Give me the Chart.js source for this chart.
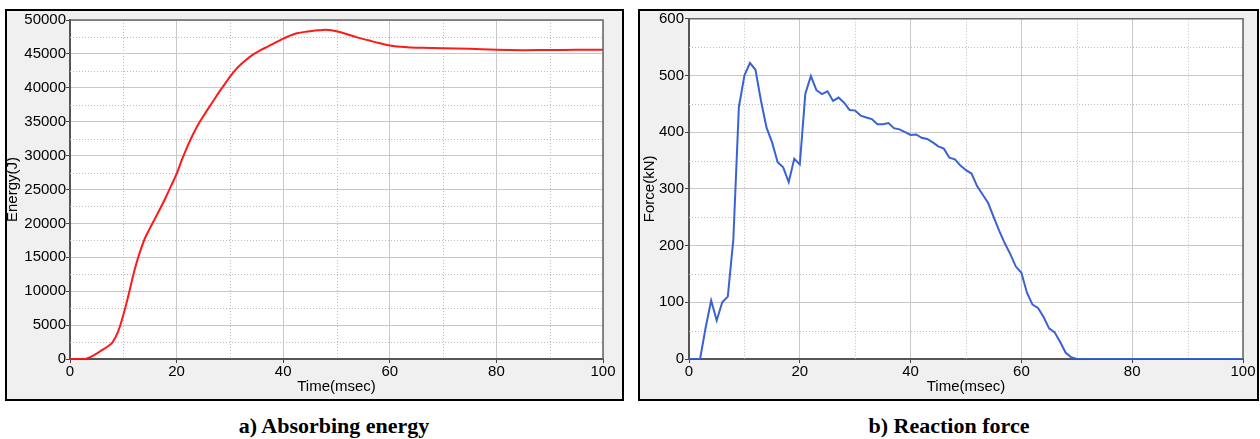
<!DOCTYPE html>
<html>
<head>
<meta charset="utf-8">
<script src="https://cdn.jsdelivr.net/npm/chart.js@4/dist/chart.umd.min.js"></script>
<style>
  body { margin: 0; background: #fff; width: 1260px; height: 439px; position: relative; overflow: hidden; }
  .panel { position: absolute; top: 9px; height: 392px; box-sizing: border-box; border: 2px solid #000; background: #f0f0f0; }
  .panel canvas { display: block; }
  .caption { position: absolute; top: 413px; height: 24px; line-height: 24px; font: bold 22px "Liberation Serif", "Times New Roman", serif; color: #000; white-space: nowrap; transform: translateX(-50%); }
</style>
</head>
<body>
<div class="panel" style="left:5px;width:619px;"><canvas id="energyChart" width="615" height="388"></canvas></div>
<div class="panel" style="left:638px;width:621px;"><canvas id="forceChart" width="617" height="388"></canvas></div>
<div class="caption" style="left:334px;">a) Absorbing energy</div>
<div class="caption" style="left:949px;">b) Reaction force</div>
<script>
// --- Data ---
const energyTime = [0, 2, 3, 4, 5, 6, 7, 8, 9, 10, 11, 12, 13, 14, 15, 16, 17, 18, 19, 20,
  21, 22, 23, 24, 25, 26, 27, 28, 29, 30, 31, 32, 33, 34, 35, 36, 37, 38, 39, 40,
  41, 42, 43, 44, 45, 46, 47, 48, 49, 50, 52, 54, 56, 58, 60, 62, 64, 66, 70, 75,
  80, 85, 90, 95, 100];
const energyValues = [0, 0, 50, 350, 800, 1300, 1800, 2500, 4000, 6500, 9500, 12800, 15500, 17700, 19300, 20800, 22300, 23900, 25600, 27300,
  29400, 31300, 33000, 34500, 35800, 37000, 38200, 39400, 40500, 41600, 42600, 43400, 44100, 44700, 45200, 45650, 46050, 46450, 46850, 47250,
  47600, 47900, 48100, 48250, 48350, 48450, 48500, 48550, 48500, 48350, 47900, 47400, 47000, 46600, 46250, 46050, 45950, 45900, 45850, 45750,
  45600, 45550, 45580, 45600, 45600];

const forceTime = [0, 2, 3, 4, 5, 6, 7, 8, 9, 10, 11, 12, 13, 14, 15, 16, 17, 18, 19, 20,
  21, 22, 23, 24, 25, 26, 27, 28, 29, 30, 31, 32, 33, 34, 35, 36, 37, 38, 39, 40,
  41, 42, 43, 44, 45, 46, 47, 48, 49, 50, 51, 52, 53, 54, 55, 56, 57, 58, 59, 60,
  61, 62, 63, 64, 65, 66, 67, 68, 69, 70, 100];
const forceValues = [0, 0, 55, 103, 68, 100, 110, 210, 444, 500, 522, 510, 455, 408, 382, 347, 338, 312, 353, 343,
  468, 499, 474, 467, 472, 455, 461, 452, 439, 438, 429, 426, 423, 414, 414, 416, 407, 405, 400, 395,
  396, 390, 388, 382, 375, 371, 355, 352, 341, 333, 327, 305, 290, 275, 250, 226, 204, 185, 163, 152,
  117, 96, 90, 74, 54, 47, 30, 11, 3, 0, 0];

// --- White plot area, minor dotted grid, plot frame ---
const minorGrid = {
  id: 'minorGrid',
  beforeDraw(chart) {
    const { ctx, chartArea: a } = chart;
    ctx.save();
    ctx.fillStyle = '#fff';
    ctx.fillRect(a.left, a.top, a.right - a.left, a.bottom - a.top);
    ctx.restore();
  },
  beforeDatasetsDraw(chart, args, opts) {
    const { ctx, chartArea: a, scales: { x, y } } = chart;
    ctx.save();
    ctx.strokeStyle = '#bdbdbd';
    ctx.lineWidth = 1;
    ctx.setLineDash([1, 2]);
    for (let v = opts.xStep; v < x.max; v += opts.xStep * 2) {
      const px = Math.round(x.getPixelForValue(v)) + 0.5;
      ctx.beginPath(); ctx.moveTo(px, a.top); ctx.lineTo(px, a.bottom); ctx.stroke();
    }
    for (let v = opts.yStep; v < y.max; v += opts.yStep * 2) {
      const py = Math.round(y.getPixelForValue(v)) + 0.5;
      ctx.beginPath(); ctx.moveTo(a.left, py); ctx.lineTo(a.right, py); ctx.stroke();
    }
    ctx.restore();
  },
  afterDraw(chart) {
    const { ctx, chartArea: a } = chart;
    ctx.save();
    ctx.strokeStyle = '#666';
    ctx.lineWidth = 1.5;
    ctx.beginPath();
    ctx.moveTo(a.left, a.top); ctx.lineTo(a.right, a.top); ctx.lineTo(a.right, a.bottom);
    ctx.stroke();
    ctx.restore();
  }
};

function makeChart(id, cfg) {
  const tickFont = { family: '"Liberation Sans", Arial, sans-serif', size: 15 };
  return new Chart(document.getElementById(id), {
    type: 'line',
    data: {
      datasets: [{
        data: cfg.times.map((t, i) => ({ x: t, y: cfg.values[i] })),
        borderColor: cfg.color,
        borderWidth: 2,
        pointRadius: 0,
        tension: cfg.tension,
        fill: false
      }]
    },
    options: {
      responsive: false,
      animation: false,
      layout: { padding: { left: 0, right: cfg.padRight, top: cfg.padTop, bottom: 0 } },
      plugins: {
        legend: { display: false },
        tooltip: { enabled: false },
        minorGrid: { xStep: 10, yStep: cfg.yStep / 2 }
      },
      scales: {
        x: {
          type: 'linear',
          min: 0, max: 100,
          afterFit: s => { s.height = 40; },
          ticks: { stepSize: 20, padding: 0, color: '#000', font: { ...tickFont, lineHeight: 1.2 }, maxRotation: 0 },
          grid: { color: '#c8c8c8', tickColor: '#444', tickLength: 4 },
          border: { color: '#555', width: 2 },
          title: { display: true, text: 'Time(msec)', color: '#000', font: { ...tickFont, lineHeight: 1 }, padding: { top: 0, bottom: 4.5 } }
        },
        y: {
          min: 0, max: cfg.yMax,
          afterFit: s => { s.width = cfg.yWidth; },
          ticks: { stepSize: cfg.yStep, padding: cfg.yTickPad, color: '#000', font: { ...tickFont, lineHeight: 0.9 }, callback: v => String(v) },
          grid: { color: '#c8c8c8', tickColor: '#444', tickLength: 4 },
          border: { color: '#555', width: 2 },
          title: { display: true, text: cfg.yTitle, color: '#000', font: { ...tickFont, lineHeight: 1 }, padding: { top: cfg.yTitlePad, bottom: 0 } }
        }
      }
    },
    plugins: [minorGrid]
  });
}

makeChart('energyChart', {
  times: energyTime, values: energyValues, color: '#ff1a1a', tension: 0.4,
  yMax: 50000, yStep: 5000, yTitle: 'Energy(J)',
  yWidth: 63, yTickPad: 0, yTitlePad: -2, padRight: 19, padTop: 9
});

makeChart('forceChart', {
  times: forceTime, values: forceValues, color: '#3a62d4', tension: 0,
  yMax: 600, yStep: 100, yTitle: 'Force(kN)',
  yWidth: 49, yTickPad: 1, yTitlePad: 2.5, padRight: 14, padTop: 7
});
</script>
</body>
</html>
